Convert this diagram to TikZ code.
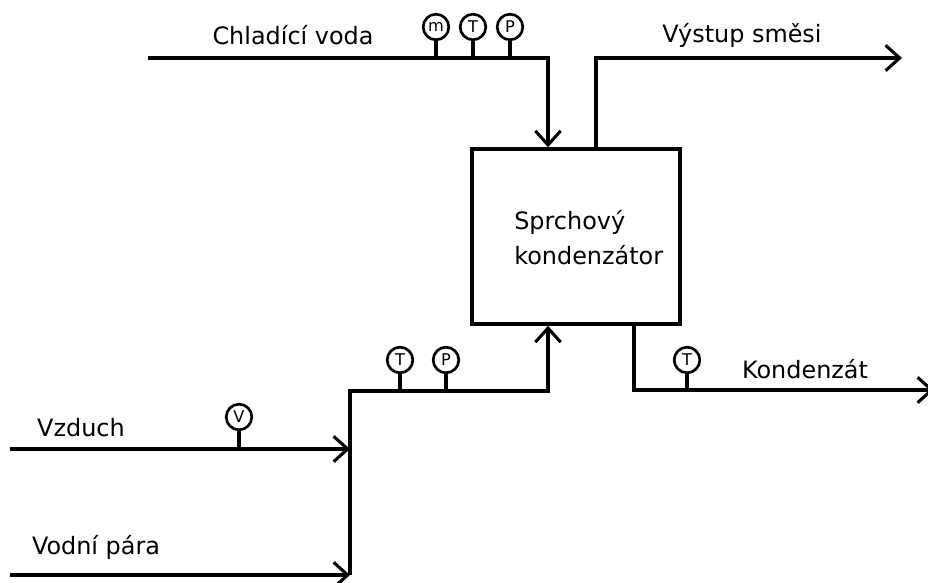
\documentclass[tikz,border=0pt]{standalone}
\usepackage{fontspec}
\setmainfont{DejaVu Sans}
\usetikzlibrary{arrows.meta}
\tikzset{
  pipe/.style={line width=2.5pt, -{Straight Barb[length=10pt,width=18pt,line width=2.2pt]}},
  stem/.style={line width=2.5pt},
  gauge/.style={circle, draw, line width=1.9pt, minimum size=0.64cm, inner sep=0pt, font=\fontsize{11.5}{11.5}\selectfont},
  lbl/.style={font=\fontsize{17}{25}\selectfont, inner sep=0pt},
  unit/.style={draw, line width=2.5pt, minimum width=5.2cm, minimum height=4.375cm}
}
\begin{document}
\begin{tikzpicture}[x=0.025cm, y=-0.025cm]
\useasboundingbox (0,0) rectangle (928,583);

\node[unit] (kond) at (576,236.5) {};
\node[lbl, anchor=west, align=left] (kondLbl) at (514,238) {Sprchový\\kondenzátor};

\coordinate (cwIn) at (148,58);
\coordinate (cwTurn) at (548,58);
\coordinate (outTurn) at (596,58);
\coordinate (outEnd) at (902,58);
\coordinate (mixTurn) at (350,391);
\coordinate (mixEnd) at (548,391);
\coordinate (steamEnd) at (350,575);
\coordinate (steamIn) at (10,575);
\coordinate (airIn) at (10,449);
\coordinate (condTurn) at (634,390);
\coordinate (condEnd) at (934,390);

\draw[pipe] (cwIn) -- (cwTurn) -- (kond.north -| cwTurn);
\draw[pipe] (kond.north -| outTurn) -- (outTurn) -- (outEnd);
\draw[pipe] (steamEnd) -- (mixTurn) -- (mixEnd) -- (kond.south -| mixEnd);
\draw[pipe] (airIn) -- (airIn -| mixTurn);
\draw[pipe] (steamIn) -- (steamEnd);
\draw[pipe] (kond.south -| condTurn) -- (condTurn) -- (condEnd);

\node[lbl] (cwLbl) at (293,35) {Chladící voda};
\node[lbl] (outLbl) at (742,35) {Výstup směsi};
\node[lbl] (airLbl) at (81,428) {Vzduch};
\node[lbl] (steamLbl) at (96,547) {Vodní pára};
\node[lbl] (condLbl) at (805,369) {Kondenzát};

\node[gauge] (gm) at (436,27) {m};
\node[gauge] (gT1) at (473,27) {T};
\node[gauge] (gP1) at (510,27) {P};
\node[gauge] (gT2) at (400,360) {T};
\node[gauge] (gP2) at (446,360) {P};
\node[gauge] (gV) at (239,417) {V};
\node[gauge] (gT3) at (687,360) {T};

\draw[stem] (gm.south) -- (gm.south |- cwIn);
\draw[stem] (gT1.south) -- (gT1.south |- cwIn);
\draw[stem] (gP1.south) -- (gP1.south |- cwIn);
\draw[stem] (gT2.south) -- (gT2.south |- mixTurn);
\draw[stem] (gP2.south) -- (gP2.south |- mixTurn);
\draw[stem] (gV.south) -- (gV.south |- airIn);
\draw[stem] (gT3.south) -- (gT3.south |- condTurn);
\end{tikzpicture}
\end{document}
